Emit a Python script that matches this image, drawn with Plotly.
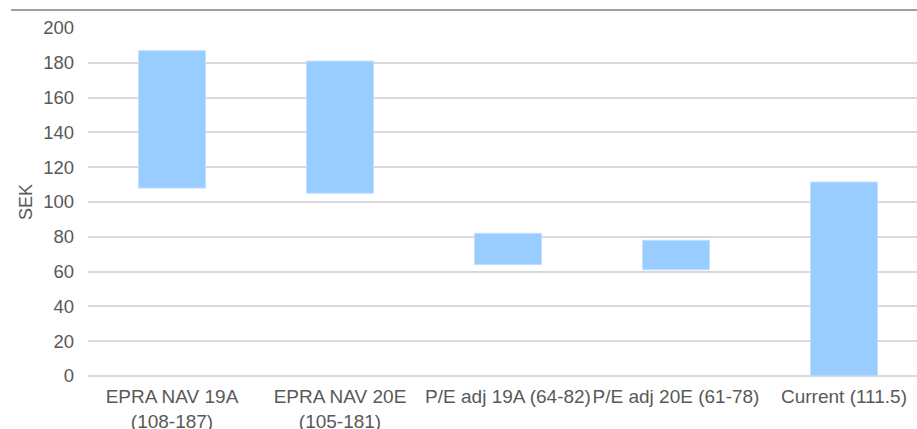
import plotly.graph_objects as go

# Valuation ranges per method (SEK per share)
categories = [
    "EPRA NAV 19A<br>(108-187)",
    "EPRA NAV 20E<br>(105-181)",
    "P/E adj 19A (64-82)",
    "P/E adj 20E (61-78)",
    "Current (111.5)",
]
range_low = [108, 105, 64, 61, 0]
range_high = [187, 181, 82, 78, 111.5]

y_ticks = [0, 20, 40, 60, 80, 100, 120, 140, 160, 180, 200]

span = [h - l for h, l in zip(range_high, range_low)]

fig = go.Figure(
    go.Bar(
        x=list(range(len(categories))),
        y=span,
        base=range_low,
        width=0.4,
        marker=dict(color="#99CCFF", line=dict(color="#C4E1FF", width=1)),
        hoverinfo="skip",
    )
)

W, H = 917, 429
ml, mr, mt, mb = 88, 0, 28, 53
plot_w = W - ml - mr
plot_h = H - mt - mb
cat_px = 168  # width of one category slot; the last slot runs past the right edge

fig.update_layout(
    width=W,
    height=H,
    margin=dict(l=ml, r=mr, t=mt, b=mb, pad=0, autoexpand=False),
    paper_bgcolor="white",
    plot_bgcolor="white",
    showlegend=False,
    font=dict(family="Liberation Sans, Arial, sans-serif", size=19, color="#595959"),
    shapes=[
        dict(
            type="line",
            xref="paper",
            yref="paper",
            x0=(11 - ml) / plot_w,
            x1=1,
            y0=1 + (mt - 10) / plot_h,
            y1=1 + (mt - 10) / plot_h,
            line=dict(color="#7F7F7F", width=1.5),
        )
    ],
)

fig.update_xaxes(
    range=[-0.5, -0.5 + plot_w / cat_px],
    tickvals=list(range(len(categories))),
    ticktext=categories,
    automargin=False,
    showgrid=False,
    showline=False,
    zeroline=False,
    tickangle=0,
    ticks="",
    ticklabelstandoff=7,
    tickfont=dict(size=19, color="#595959"),
)
fig.update_yaxes(
    range=[0, 200],
    tickvals=y_ticks,
    automargin=False,
    showgrid=True,
    gridcolor="#D9D9D9",
    gridwidth=1.5,
    zeroline=True,
    zerolinecolor="#D9D9D9",
    zerolinewidth=1.5,
    showline=False,
    ticks="",
    ticklabelstandoff=13,
    tickfont=dict(size=18.5, color="#595959"),
    title=dict(text="SEK", font=dict(size=18, color="#595959"), standoff=5),
)

fig.write_html("out.html")
